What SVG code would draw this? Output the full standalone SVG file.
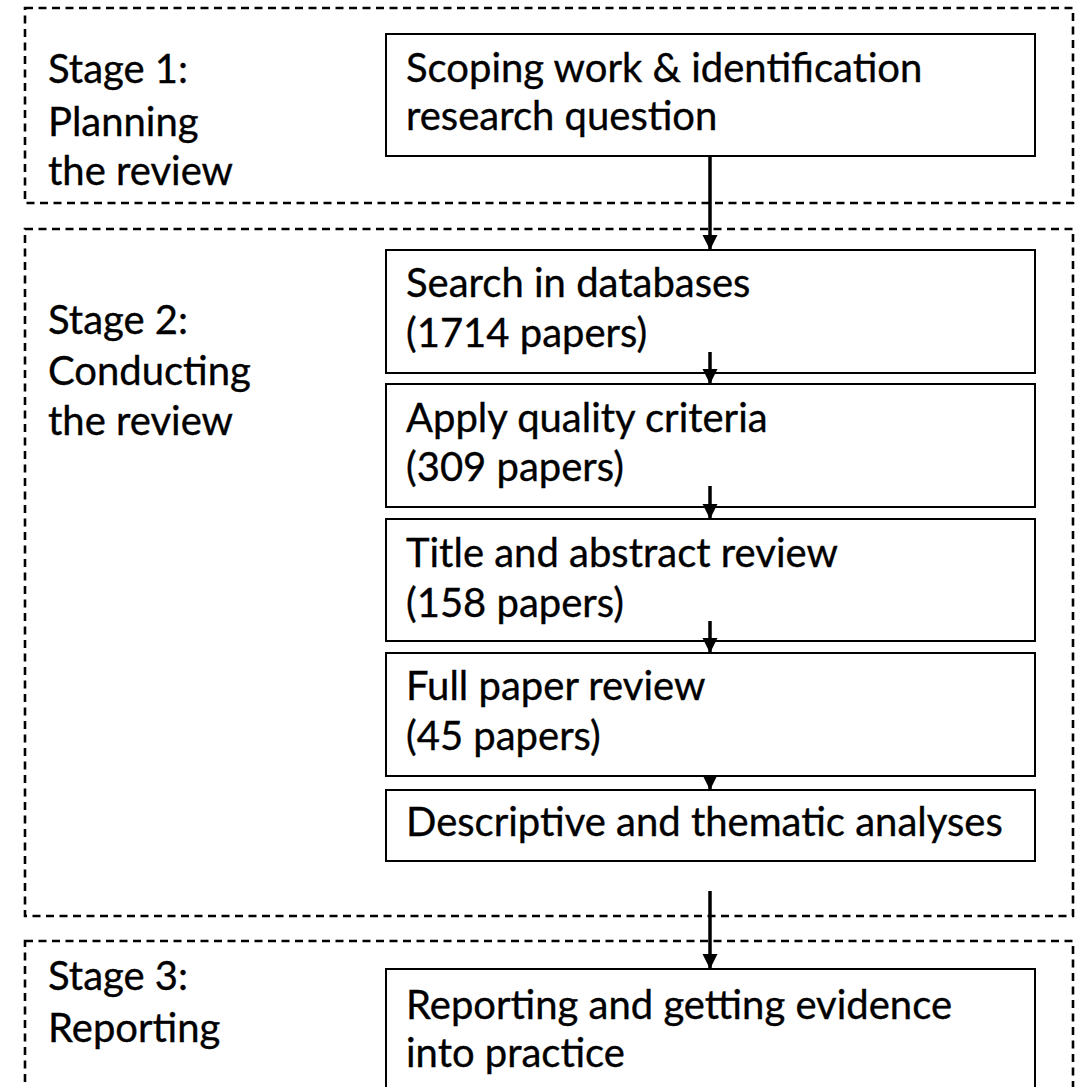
<svg xmlns="http://www.w3.org/2000/svg" width="1081" height="1087" viewBox="0 0 1081 1087">
<style>
.stage{fill:none;stroke:#000;stroke-width:2.6;stroke-dasharray:8 5.5}
.box{fill:#fff;stroke:#000;stroke-width:2}
.t{font-family:Lato,"Open Sans","Liberation Sans",sans-serif;font-size:40px;fill:#000;stroke:#000;stroke-width:0.35}
.c{stroke:#000;stroke-width:3.5;fill:none}
</style>
<defs>
<marker id="ah" viewBox="0 0 10 10" refX="10" refY="5" markerWidth="4.3" markerHeight="4.3" markerUnits="strokeWidth" orient="auto">
<path d="M0,0 L10,5 L0,10 z" fill="#000"/>
</marker>
</defs>
<rect width="1081" height="1087" fill="#fff"/>
<g id="stage1">
<rect class="stage" x="25" y="8" width="1048" height="195"/>
<text class="t" x="48" y="83">Stage 1:</text>
<text class="t" x="48" y="136">Planning</text>
<text class="t" x="48" y="185">the review</text>
</g>
<g id="stage2">
<rect class="stage" x="25" y="229" width="1048" height="687"/>
<text class="t" x="48" y="334">Stage 2:</text>
<text class="t" x="48" y="385">Conducting</text>
<text class="t" x="48" y="435">the review</text>
</g>
<g id="stage3">
<rect class="stage" x="25" y="941" width="1048" height="170"/>
<text class="t" x="48" y="990">Stage 3:</text>
<text class="t" x="48" y="1042">Reporting</text>
</g>
<g id="n1">
<rect class="box" x="386" y="34" width="649" height="122"/>
<text class="t" x="406" y="82">Scoping work &amp; identification</text>
<text class="t" x="406" y="130">research question</text>
</g>
<g id="n2">
<rect class="box" x="386" y="250" width="649" height="123"/>
<text class="t" x="406" y="297">Search in databases</text>
<text class="t" x="406" y="347">(1714 papers)</text>
</g>
<g id="n3">
<rect class="box" x="386" y="384" width="649" height="123"/>
<text class="t" x="406" y="432">Apply quality criteria</text>
<text class="t" x="406" y="481">(309 papers)</text>
</g>
<g id="n4">
<rect class="box" x="386" y="519" width="649" height="122"/>
<text class="t" x="406" y="567">Title and abstract review</text>
<text class="t" x="406" y="617">(158 papers)</text>
</g>
<g id="n5">
<rect class="box" x="386" y="653" width="649" height="123"/>
<text class="t" x="406" y="700">Full paper review</text>
<text class="t" x="406" y="750">(45 papers)</text>
</g>
<g id="n6">
<rect class="box" x="386" y="790" width="649" height="71"/>
<text class="t" x="406" y="836">Descriptive and thematic analyses</text>
</g>
<g id="n7">
<rect class="box" x="386" y="969" width="649" height="140"/>
<text class="t" x="406" y="1019">Reporting and getting evidence</text>
<text class="t" x="406" y="1067">into practice</text>
</g>
<g id="connectors">
<line class="c" x1="710" y1="156" x2="710" y2="250" marker-end="url(#ah)"/>
<line class="c" x1="710" y1="352" x2="710" y2="384" marker-end="url(#ah)"/>
<line class="c" x1="710" y1="486" x2="710" y2="519" marker-end="url(#ah)"/>
<line class="c" x1="710" y1="621" x2="710" y2="653" marker-end="url(#ah)"/>
<line class="c" x1="710" y1="775" x2="710" y2="790" marker-end="url(#ah)"/>
<line class="c" x1="710" y1="891" x2="710" y2="969" marker-end="url(#ah)"/>
</g>
</svg>
